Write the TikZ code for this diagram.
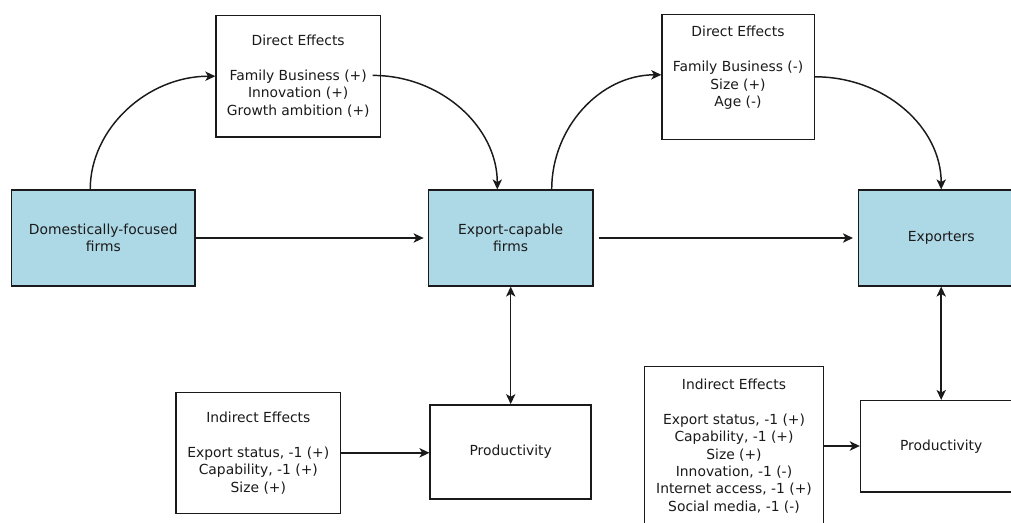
\documentclass[tikz,border=0pt]{standalone}
\usepackage{fontspec}
\setmainfont{DejaVu Sans}
\usetikzlibrary{arrows.meta,calc}
\newdimen\pxu \pxu=0.75pt
\definecolor{boxblue}{HTML}{ADD8E6}
\definecolor{ink}{HTML}{1A1A1A}
\begin{document}
\begin{tikzpicture}[x=0.75pt,y=-0.75pt,
  every node/.style={font={\fontsize{10.4pt}{13.1pt}\selectfont}, text=ink},
  box/.style={draw=ink, line width=1.1pt, rectangle, align=center, inner sep=0pt},
  firm/.style={box, fill=boxblue},
  tip/.tip={Stealth[length=7.5pt,width=7pt,inset=2pt]},
  conn/.style={draw=ink, line width=1.1pt, -tip},
  both/.style={draw=ink, line width=1.1pt, tip-tip}]
\useasboundingbox (0,0) rectangle (1011,522);
\clip (0,0) rectangle (1011,522);
\fill[white] (0,0) rectangle (1011,522);

% main firm boxes
\node[firm, minimum width=183.3\pxu, minimum height=95.7\pxu] (dom) at (103.3,238) {Domestically-focused\\firms};
\node[firm, minimum width=164.7\pxu, minimum height=95.7\pxu] (ec) at (510.7,238) {Export-capable\\firms};
\node[firm, minimum width=165\pxu, minimum height=95.7\pxu] (exp) at (941.2,238) {Exporters};

% direct effects
\node[box, minimum width=164.3\pxu, minimum height=121.7\pxu] (d1) at (298.2,76.2) {Direct Effects\\[13pt]Family Business (+)\\Innovation (+)\\Growth ambition (+)};
\node[box, minimum width=152.3\pxu, minimum height=125\pxu] (d2) at (738.2,76.8) {};
\node[align=center] (d2t) at (738,67.8) {Direct Effects\\[13pt]Family Business (-)\\Size (+)\\Age (-)};

% productivity and indirect effects
\node[box, minimum width=161\pxu, minimum height=94.3\pxu] (p1) at (510.7,452) {Productivity};
\node[box, minimum width=164.7\pxu, minimum height=121\pxu] (i1) at (258.3,452.8) {Indirect Effects\\[13pt]Export status, -1 (+)\\Capability, -1 (+)\\Size (+)};
\node[box, minimum width=161.3\pxu, minimum height=91.3\pxu] (p2) at (941.2,446.3) {Productivity};
\node[box, minimum width=178.7\pxu, minimum height=158.6\pxu] (i2) at (734,446) {Indirect Effects\\[13pt]Export status, -1 (+)\\Capability, -1 (+)\\Size (+)\\Innovation, -1 (-)\\Internet access, -1 (+)\\Social media, -1 (-)};

% curved connectors
\draw[conn] ([xshift=79.3\pxu]dom.north west) .. controls +(0,-61) and +(-68,0) .. (d1.west);
\draw[conn] ([xshift=-8.5\pxu,yshift=0.8\pxu]d1.east) .. controls +(69,0) and +(0,-62) .. ([xshift=-13.4\pxu]ec.north);
\draw[conn] ([xshift=41\pxu]ec.north) .. controls +(0,-62) and +(-61,0) .. ([yshift=2\pxu]d2.west);
\draw[conn] (d2.east) .. controls +(70,0) and +(0,-62) .. (exp.north);

% straight connectors
\draw[conn, shorten >=4\pxu] (dom.east) -- (ec.west);
\draw[conn, shorten <=5\pxu, shorten >=5\pxu] (ec.east) -- (exp.west);
\draw[both] (ec.south) -- (p1.north);
\draw[both] (exp.south) -- (p2.north);
\draw[conn] (i1.east) -- (i1.east -| p1.west);
\draw[conn] (i2.east) -- (i2.east -| p2.west);
\end{tikzpicture}
\end{document}
